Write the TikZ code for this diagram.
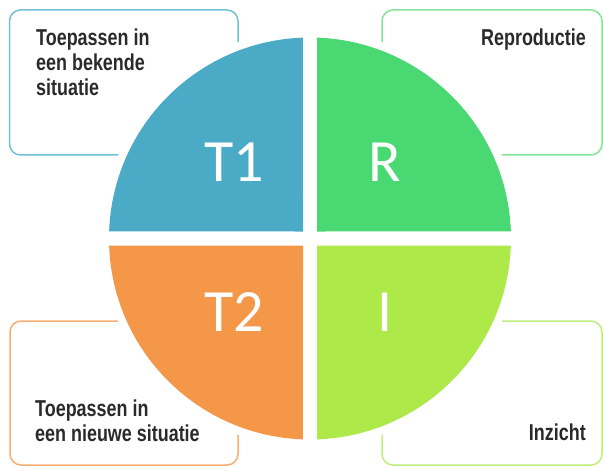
\documentclass[tikz,border=0pt]{standalone}
\usepackage{fontspec}
\newfontfamily\boxfont{Liberation Sans}[FakeStretch=0.78]
\newfontfamily\bigfont{Carlito}
\usetikzlibrary{calc}
\definecolor{tblue}{HTML}{4BAAC5}
\definecolor{tgreen}{HTML}{4AD873}
\definecolor{torange}{HTML}{F59748}
\definecolor{tlime}{HTML}{AEE94A}
\definecolor{tlblue}{HTML}{72C0D6}
\definecolor{tlgreen}{HTML}{86E39A}
\definecolor{tlorange}{HTML}{F6AD72}
\definecolor{tllime}{HTML}{C0EC7C}
\definecolor{ttext}{HTML}{2A2A2A}
\tikzset{
  box/.style={draw, line width=1.5pt, rounded corners=11pt},
  boxtext/.style={inner sep=0pt, text=ttext, font=\boxfont\bfseries\fontsize{23}{25}\selectfont},
  bigletter/.style={inner sep=0pt, text=white, font=\bigfont\fontsize{60}{60}\selectfont}
}
\begin{document}
\begin{tikzpicture}[x=1pt,y=1pt]
                \useasboundingbox (0,0) rectangle (603,467);
                % kaders
                \draw[box,tlblue]
                    (9.5,312) rectangle (238,457);
                \draw[box,tlgreen]
                    (382,312) rectangle (602,457);
                \draw[box,tlorange]
                    (10,2) rectangle (238,146);
                \draw[box,tllime]
                    (382,2) rectangle (602,146);
                % cirkel
                \coordinate (c) at (310,228.5);
                \fill[white] (c) circle (209);
                \fill[tgreen]
                    ($(c)+(7,7)$) -- ($(c)+(88:201)$) arc[start angle=88,end angle=2,radius=201] -- cycle;
                \fill[tblue]
                    ($(c)+(-7,7)$) -- ($(c)+(92:201)$) arc[start angle=92,end angle=178,radius=201] -- cycle;
                \fill[torange]
                    ($(c)+(-7,-7)$) -- ($(c)+(182:201)$) arc[start angle=182,end angle=268,radius=201] -- cycle;
                \fill[tlime]
                    ($(c)+(7,-7)$) -- ($(c)+(272:201)$) arc[start angle=272,end angle=358,radius=201] -- cycle;
                \path
                    (234,305) node[bigletter] (t1) {T1}
                    (385,305) node[bigletter] (r) {R}
                    (234,155) node[bigletter] (t2) {T2}
                    (385,155) node[bigletter] (i) {I};
                % teksten
                \path
                    (36,438) node[boxtext,anchor=north west,align=left] (bekend) {Toepassen in\\een bekende\\situatie}
                    (586,438) node[boxtext,anchor=north east] (repro) {Reproductie}
                    (35,67) node[boxtext,anchor=north west,align=left] (nieuw) {Toepassen in\\een nieuwe situatie}
                    (586,43) node[boxtext,anchor=north east] (inzicht) {Inzicht};
            \end{tikzpicture}
\end{document}
